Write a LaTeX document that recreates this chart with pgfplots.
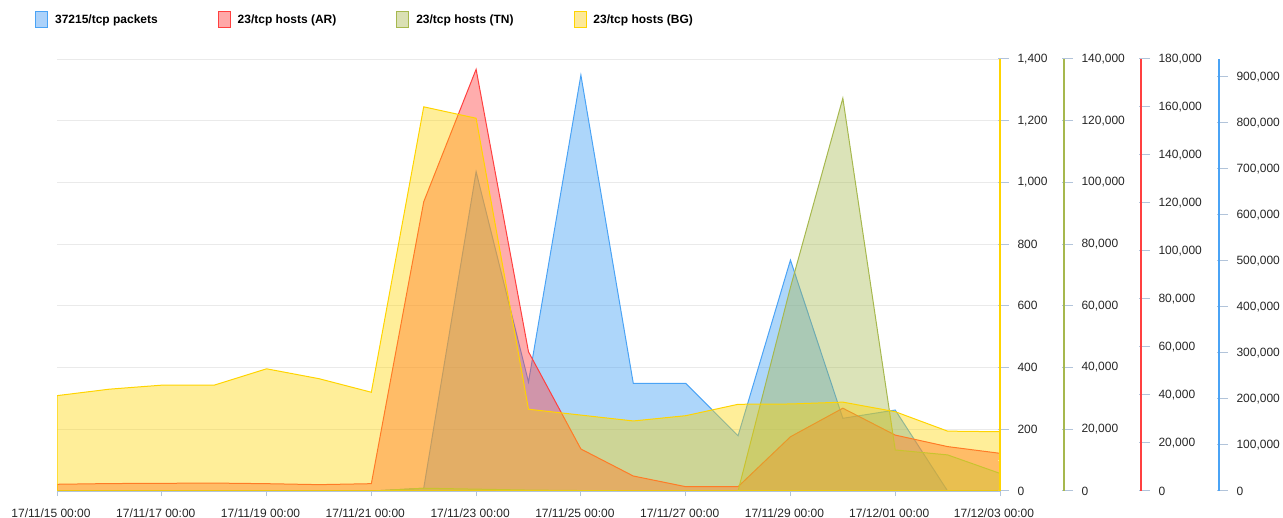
\documentclass[border=0pt]{standalone}
\usepackage{pgfplots}
\pgfplotsset{compat=1.18}
\usepackage{fontspec}
\setmainfont{Liberation Sans}
\definecolor{bline}{RGB}{74,163,245}
\definecolor{rline}{RGB}{255,64,64}
\definecolor{gline}{RGB}{166,184,78}
\definecolor{yline}{RGB}{255,212,0}
\definecolor{bfill}{RGB}{172,210,250}
\definecolor{rfill}{RGB}{255,168,168}
\definecolor{gfill}{RGB}{218,224,180}
\definecolor{yfill}{RGB}{253,233,152}
\definecolor{tickc}{RGB}{178,196,218}
\definecolor{gridc}{RGB}{234,234,234}
\pgfplotsset{
  base/.style={
    at={(57bp,27bp)}, anchor=south west, scale only axis,
    width=943bp, height=432bp, xmin=0, xmax=18, ymin=0,
    scaled y ticks=false,
    /pgf/number format/fixed, /pgf/number format/precision=0,
    /pgf/number format/1000 sep={,}, /pgf/number format/assume math mode=true,
    tick align=outside, major tick length=11bp, minor tick length=4bp,
    minor y tick num=1,
    every tick/.style={line width=1bp},
    every major tick/.append style={tickc, xshift=-2bp},
    every minor tick/.append style={white, xshift=-2bp},
    ticklabel style={font=\fontsize{12bp}{14bp}\selectfont, text=black!85},
  },
}
\begin{document}
\begin{tikzpicture}
\useasboundingbox (0,0) rectangle (1283bp,518bp);
% base axis: grid, x axis
\begin{axis}[base, ymax=1400, major tick length=5bp, minor y tick num=0,
  every major tick/.style={tickc, line width=1bp},
  axis x line*=bottom, axis y line*=right,
  ytick={0,200,400,600,800,1000,1200,1400}, yticklabels={},
  ytick style={draw=none}, y axis line style={draw=none},
  ymajorgrids, grid style={gridc, line width=0.8bp},
  xtick={0,2,4,6,8,10,12,14,16,18},
  xticklabels={{17/11/15 00:00},{17/11/17 00:00},{17/11/19 00:00},{17/11/21 00:00},{17/11/23 00:00},{17/11/25 00:00},{17/11/27 00:00},{17/11/29 00:00},{17/12/01 00:00},{17/12/03 00:00}},
  xticklabel style={xshift=-6bp, yshift=-9bp},
  x axis line style={-, draw=tickc, line width=1bp},
]
\end{axis}
% packets (blue)
\begin{axis}[base, ymax=939130, hide x axis, axis y line*=right,
  ytick={0,100000,200000,300000,400000,500000,600000,700000,800000,900000},
  y axis line style={-, draw=bline, line width=1.6bp, xshift=219bp},
  ytick style={xshift=219bp}, yticklabel style={xshift=222bp}]
\addplot[draw=bline, line width=1bp, fill=bline, fill opacity=0.45] coordinates {
(0,0) (1,0) (2,0) (3,0) (4,0) (5,0) (6,0) (7,6000) (8,694000) (9,237000)
(10,904000) (11,234000) (12,234000) (13,120000) (14,502000) (15,158000)
(16,176000) (17,0) (18,0)} \closedcycle;
\end{axis}
% AR (red)
\begin{axis}[base, ymax=180000, hide x axis, axis y line*=right,
  ytick={0,20000,40000,60000,80000,100000,120000,140000,160000,180000},
  y axis line style={-, draw=rline, line width=1.6bp, xshift=141bp},
  ytick style={xshift=141bp}, yticklabel style={xshift=144bp}]
\addplot[draw=rline, line width=1bp, fill=rline, fill opacity=0.43] coordinates {
(0,2800) (1,3100) (2,3200) (3,3300) (4,3050) (5,2650) (6,3050) (7,120500)
(8,175700) (9,58000) (10,17500) (11,6250) (12,1800) (13,1800) (14,22600)
(15,34500) (16,23300) (17,18500) (18,15700)} \closedcycle;
\end{axis}
% TN (green)
\begin{axis}[base, ymax=140000, hide x axis, axis y line*=right,
  ytick={0,20000,40000,60000,80000,100000,120000,140000},
  y axis line style={-, draw=gline, line width=1.6bp, xshift=64bp},
  ytick style={xshift=64bp}, yticklabel style={xshift=67bp}]
\addplot[draw=gline, line width=1bp, fill=gline, fill opacity=0.4] coordinates {
(0,0) (1,0) (2,0) (3,0) (4,0) (5,0) (6,0) (7,900) (8,600) (9,300)
(10,150) (11,50) (12,0) (13,0) (14,66000) (15,127300) (16,13300)
(17,11700) (18,5700)} \closedcycle;
\end{axis}
% BG (yellow) + legend
\begin{axis}[base, ymax=1400, hide x axis, axis y line*=right,
  ytick={0,200,400,600,800,1000,1200,1400},
  y axis line style={-, draw=yline, line width=1.8bp},
  yticklabel style={xshift=3bp},
  legend image code/.code={\draw[#1, line width=0.9bp] (0bp,-8bp) rectangle (12bp,8bp);},
  legend columns=4,
  legend style={at={(rel axis cs:0,1)}, anchor=north west, xshift=-22bp, yshift=48bp,
    draw=none, fill=none, inner sep=0pt,
    font=\bfseries\fontsize{12bp}{14bp}\selectfont,
    /tikz/every odd column/.append style={column sep=5bp},
    /tikz/every even column/.append style={column sep=58bp}},
  legend cell align=left]
\addlegendimage{draw=bline, fill=bfill}
\addlegendentry{37215/tcp packets}
\addlegendimage{draw=rline, fill=rfill}
\addlegendentry{23/tcp hosts (AR)}
\addlegendimage{draw=gline, fill=gfill}
\addlegendentry{23/tcp hosts (TN)}
\addlegendimage{draw=yline, fill=yfill}
\addlegendentry{23/tcp hosts (BG)}
\addplot[draw=yline, line width=1bp, fill=yline, fill opacity=0.4, forget plot] coordinates {
(0,309) (1,330) (2,343) (3,343) (4,396) (5,364) (6,320) (7,1245) (8,1208)
(9,265) (10,246) (11,227) (12,244) (13,281) (14,282) (15,288) (16,257)
(17,194) (18,192)} \closedcycle;
\end{axis}
\end{tikzpicture}
\end{document}
